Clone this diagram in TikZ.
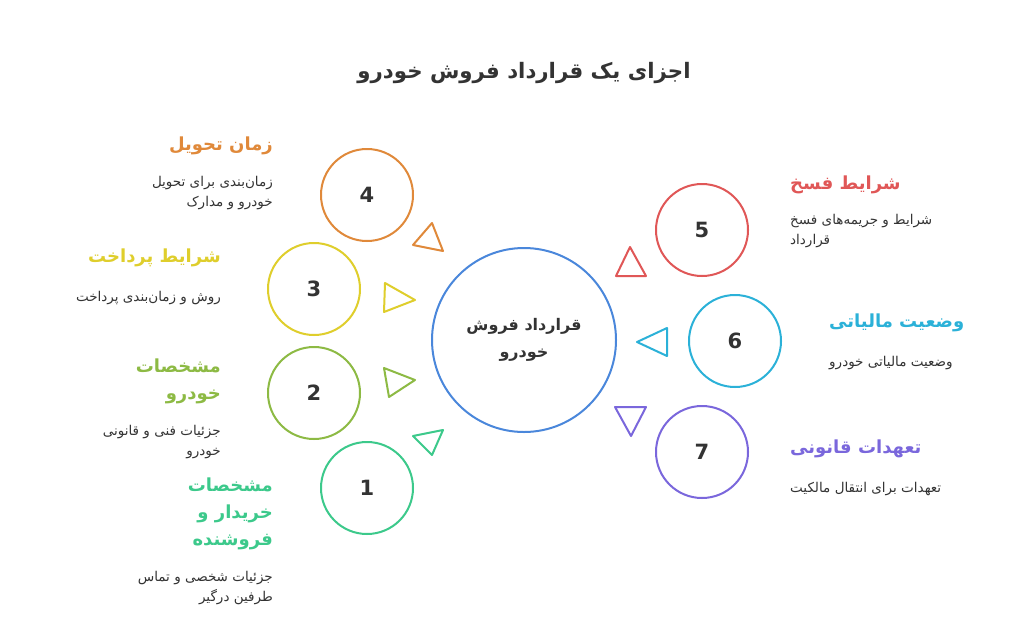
\documentclass[tikz,border=0pt]{standalone}
\usepackage{fontspec}
\setmainfont{DejaVu Sans}
\newfontfamily\arabicfont[Script=Arabic]{DejaVu Sans}
\TeXXeTstate=1
\newcommand{\rtl}[1]{\beginR #1\endR}

\definecolor{corange}{HTML}{E0893A}
\definecolor{cyellow}{HTML}{DFCE2C}
\definecolor{colive}{HTML}{8DBA44}
\definecolor{cgreen}{HTML}{3CC98B}
\definecolor{cblue}{HTML}{4A87DB}
\definecolor{cred}{HTML}{E05757}
\definecolor{ccyan}{HTML}{2BB1D8}
\definecolor{cpurple}{HTML}{7A67DC}
\definecolor{cdark}{HTML}{333333}

\tikzset{
  numcirc/.style={circle, draw=#1, line width=2pt, minimum size=92pt, inner sep=0pt,
    font=\bfseries\fontsize{21}{21}\selectfont, text=cdark},
  headtxt/.style={text=#1, inner sep=0pt, font=\arabicfont\bfseries\fontsize{18}{27}\selectfont},
  desctxt/.style={text=cdark, inner sep=0pt, font=\arabicfont\fontsize{13.5}{20}\selectfont},
  tri/.style={draw=#1, line width=2pt, line join=round},
}

\begin{document}
\begin{tikzpicture}[x=1pt, y=-1pt]
  \useasboundingbox (0,0) rectangle (1024,629);
  \fill[white] (0,0) rectangle (1024,629);

  % title
  \node[text=cdark, font=\arabicfont\bfseries\fontsize{21.3}{22}\selectfont] (title) at (524,73) {\rtl{اجزای یک قرارداد فروش خودرو}};

  % center
  \node[circle, draw=cblue, line width=2pt, minimum size=184pt, align=center, text=cdark,
    font=\arabicfont\bfseries\fontsize{16}{27}\selectfont] (ctr) at (524,340)
    {\rtl{قرارداد فروش}\\\rtl{خودرو}};

  % numbered circles
  \node[numcirc=corange] (c4) at (367,195) {4};
  \node[numcirc=cyellow] (c3) at (314,289) {3};
  \node[numcirc=colive] (c2) at (314,393) {2};
  \node[numcirc=cgreen] (c1) at (367,488) {1};
  \node[numcirc=cred] (c5) at (702,230) {5};
  \node[numcirc=ccyan] (c6) at (735,341) {6};
  \node[numcirc=cpurple] (c7) at (702,452) {7};

  % triangles
  \draw[tri=corange] (413,245) -- (432,223) -- (443,251) -- cycle;
  \draw[tri=cyellow] (385,283) -- (415,300) -- (384,312) -- cycle;
  \draw[tri=colive] (384,368) -- (415,380) -- (389,397) -- cycle;
  \draw[tri=cgreen] (413,436) -- (443,430) -- (432,455) -- cycle;
  \draw[tri=cred] (616,276) -- (630,247) -- (646,276) -- cycle;
  \draw[tri=ccyan] (667,328) -- (637,342) -- (667,356) -- cycle;
  \draw[tri=cpurple] (615,407) -- (646,407) -- (631,436) -- cycle;

  % left labels
  \node[headtxt=corange, anchor=east] (h4) at (273,146) {\rtl{زمان تحویل}};
  \node[desctxt, anchor=east, align=right] (d4) at (273,193) {\rtl{زمان‌بندی برای تحویل}\\\rtl{خودرو و مدارک}};
  \node[headtxt=cyellow, anchor=east] (h3) at (221,258) {\rtl{شرایط پرداخت}};
  \node[desctxt, anchor=east] (d3) at (221,298) {\rtl{روش و زمان‌بندی پرداخت}};
  \node[headtxt=colive, anchor=east, align=right] (h2) at (221,381) {\rtl{مشخصات}\\\rtl{خودرو}};
  \node[desctxt, anchor=east, align=right] (d2) at (221,442) {\rtl{جزئیات فنی و قانونی}\\\rtl{خودرو}};
  \node[headtxt=cgreen, anchor=east, align=right] (h1) at (273,514) {\rtl{مشخصات}\\\rtl{خریدار و}\\\rtl{فروشنده}};
  \node[desctxt, anchor=east, align=right] (d1) at (273,588) {\rtl{جزئیات شخصی و تماس}\\\rtl{طرفین درگیر}};

  % right labels
  \node[headtxt=cred, anchor=west] (h5) at (790,185) {\rtl{شرایط فسخ}};
  \node[desctxt, anchor=west, align=left] (d5) at (790,231) {\rtl{شرایط و جریمه‌های فسخ}\\\rtl{قرارداد}};
  \node[headtxt=ccyan, anchor=west] (h6) at (829,323) {\rtl{وضعیت مالیاتی}};
  \node[desctxt, anchor=west] (d6) at (829,363) {\rtl{وضعیت مالیاتی خودرو}};
  \node[headtxt=cpurple, anchor=west] (h7) at (790,449) {\rtl{تعهدات قانونی}};
  \node[desctxt, anchor=west] (d7) at (790,489) {\rtl{تعهدات برای انتقال مالکیت}};
\end{tikzpicture}
\end{document}
